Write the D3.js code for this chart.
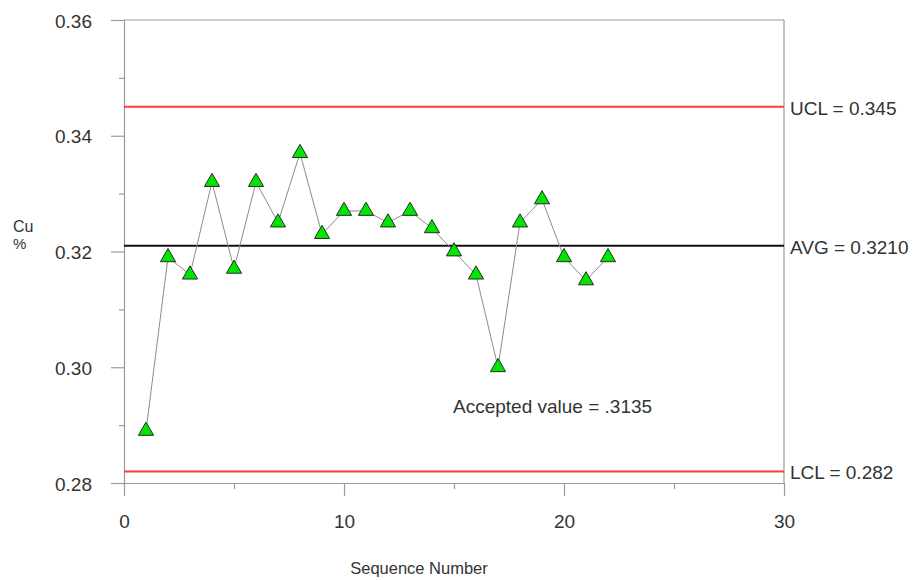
<!DOCTYPE html>
<html>
<head>
<meta charset="utf-8">
<script src="https://cdn.jsdelivr.net/npm/d3@7"></script>
<style>
  html, body { margin: 0; padding: 0; background: #fff; }
  svg text { font-family: "Liberation Sans", Arial, Helvetica, sans-serif; fill: #333; }
</style>
</head>
<body>
<svg id="chart" width="916" height="580"></svg>
<script>
// Copper content (%) by sequence number
const sequence = [1, 2, 3, 4, 5, 6, 7, 8, 9, 10, 11, 12, 13, 14, 15, 16, 17, 18, 19, 20, 21, 22];
const cuPercent = [0.289, 0.319, 0.316, 0.332, 0.317, 0.332, 0.325, 0.337, 0.323, 0.327, 0.327,
                   0.325, 0.327, 0.324, 0.320, 0.316, 0.300, 0.325, 0.329, 0.319, 0.315, 0.319];

// Control limits
const limitNames = ["UCL", "AVG", "LCL"];
const limitValues = [0.345, 0.3210, 0.282];
const limitLabels = ["UCL = 0.345", "AVG = 0.3210", "LCL = 0.282"];

const yMajorTicks = [0.28, 0.30, 0.32, 0.34, 0.36];
const yTickLabels = ["0.28", "0.30", "0.32", "0.34", "0.36"];
const yMinorTicks = [0.29, 0.31, 0.33, 0.35];
const xMajorTicks = [0, 10, 20, 30];
const xMinorTicks = [5, 15, 25];
const acceptedLabel = "Accepted value = .3135";

const svg = d3.select("#chart");
const plot = { left: 124, right: 784, top: 20, bottom: 483 };

const x = d3.scaleLinear().domain([0, 30]).range([plot.left, plot.right]);
const y = d3.scaleLinear().domain([0.28, 0.36]).range([plot.bottom, plot.top]);

const axisColor = "#9a9a9a";
const labelSize = 19;

// Frame
svg.append("line").attr("x1", plot.left).attr("x2", plot.right)
  .attr("y1", plot.top).attr("y2", plot.top).attr("stroke", axisColor).attr("stroke-width", 1.2);
svg.append("line").attr("x1", plot.right).attr("x2", plot.right)
  .attr("y1", plot.top).attr("y2", plot.bottom).attr("stroke", axisColor).attr("stroke-width", 1.2);

// Y axis: major and minor ticks
const yAxis = d3.axisLeft(y).tickValues(yMajorTicks)
  .tickFormat((d, i) => yTickLabels[i]).tickSizeInner(13).tickSizeOuter(0).tickPadding(19);
const gy = svg.append("g").attr("transform", `translate(${plot.left},0)`).call(yAxis);
gy.select(".domain").attr("stroke", axisColor).attr("stroke-width", 1.2);
gy.selectAll(".tick line").attr("stroke", axisColor).attr("stroke-width", 1.2);
gy.selectAll(".tick text").attr("font-size", labelSize).attr("fill", "#333").attr("dy", "0.38em");

const yMinor = d3.axisLeft(y).tickValues(yMinorTicks).tickFormat("").tickSizeInner(5).tickSizeOuter(0);
const gym = svg.append("g").attr("transform", `translate(${plot.left},0)`).call(yMinor);
gym.select(".domain").remove();
gym.selectAll(".tick line").attr("stroke", axisColor).attr("stroke-width", 1.2);

// X axis: major and minor ticks
const xAxis = d3.axisBottom(x).tickValues(xMajorTicks).tickFormat(d3.format("d"))
  .tickSizeInner(13).tickSizeOuter(0).tickPadding(19);
const gx = svg.append("g").attr("transform", `translate(0,${plot.bottom})`).call(xAxis);
gx.select(".domain").attr("stroke", axisColor).attr("stroke-width", 1.2);
gx.selectAll(".tick line").attr("stroke", axisColor).attr("stroke-width", 1.2);
gx.selectAll(".tick text").attr("font-size", labelSize).attr("fill", "#333");

const xMinor = d3.axisBottom(x).tickValues(xMinorTicks).tickFormat("").tickSizeInner(6).tickSizeOuter(0);
const gxm = svg.append("g").attr("transform", `translate(0,${plot.bottom})`).call(xMinor);
gxm.select(".domain").remove();
gxm.selectAll(".tick line").attr("stroke", axisColor).attr("stroke-width", 1.2);

// Control limit lines and labels
limitNames.forEach((name, i) => {
  const yy = y(limitValues[i]);
  svg.append("line")
    .attr("x1", plot.left).attr("x2", plot.right)
    .attr("y1", yy).attr("y2", yy)
    .attr("stroke", name === "AVG" ? "#111" : "#ff3b3b")
    .attr("stroke-width", 2);
  svg.append("text")
    .attr("x", plot.right + 6).attr("y", yy)
    .attr("dy", "0.42em")
    .attr("font-size", labelSize)
    .text(limitLabels[i]);
});

// Data line and markers
const line = d3.line().x((d, i) => x(sequence[i])).y(d => y(d));
svg.append("path").datum(cuPercent)
  .attr("d", line).attr("fill", "none")
  .attr("stroke", "#8c8c8c").attr("stroke-width", 1);

const tri = d3.symbol().type(d3.symbolTriangle).size(100);
svg.append("g").selectAll("path.pt").data(cuPercent).join("path")
  .attr("class", "pt")
  .attr("transform", (d, i) => `translate(${x(sequence[i])},${y(d)})`)
  .attr("d", tri)
  .attr("fill", "#00e600")
  .attr("stroke", "#2a2a2a").attr("stroke-width", 1);

// Annotation
svg.append("text").attr("x", 453).attr("y", 413)
  .attr("font-size", labelSize).text(acceptedLabel);

// Axis titles
svg.append("text").attr("x", 13).attr("y", 232).attr("font-size", 16).text("Cu");
svg.append("text").attr("x", 13).attr("y", 249).attr("font-size", 15).text("%");
svg.append("text").attr("x", 419).attr("y", 574).attr("text-anchor", "middle")
  .attr("font-size", 16.5).text("Sequence Number");
</script>
</body>
</html>
